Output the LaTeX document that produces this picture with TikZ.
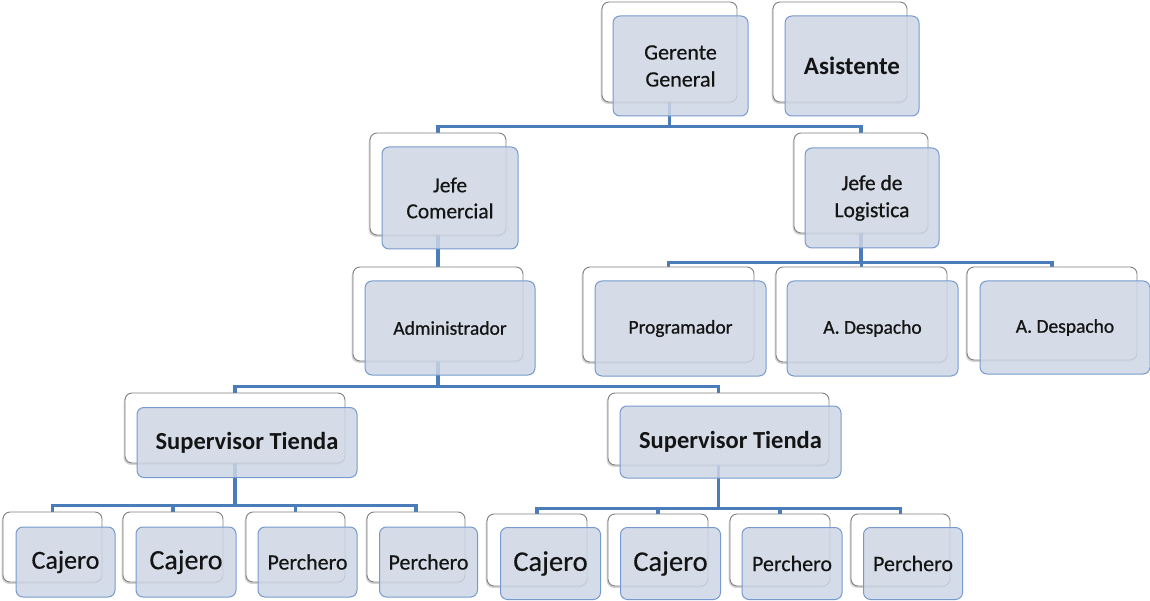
\documentclass[tikz,border=0pt]{standalone}
\usepackage{fontspec}
\setmainfont{Carlito}[Ligatures=NoCommon]
\newfontfamily\semib{Carlito}[FakeBold=0.8,Ligatures=NoCommon]
\newfontfamily\lightb{Carlito}[FakeBold=0.4,Ligatures=NoCommon]
\usetikzlibrary{shadows}
\pgfdeclarelayer{background}
\pgfsetlayers{background,main}
\definecolor{frontfill}{RGB}{206,214,229}
\definecolor{frontdraw}{RGB}{118,154,205}
\definecolor{backdraw}{RGB}{128,128,128}
\definecolor{conncol}{RGB}{74,124,185}
\definecolor{txt}{RGB}{20,20,20}
\tikzset{
  backbox/.style={draw=backdraw, line width=0.9pt, fill=white, rounded corners=7pt,
    drop shadow={shadow xshift=-1.3pt, shadow yshift=-1.8pt, opacity=0.35}, inner sep=0pt},
  frontbox/.style={draw=frontdraw, line width=1pt, fill=frontfill, fill opacity=0.85,
    text opacity=1, rounded corners=7pt, inner sep=0pt, align=center, text=txt},
  conn/.style={draw=conncol, line width=3.5pt},
}
\newcommand\orgunit[9]{%
  \node[backbox, minimum width=#4pt, minimum height=#5pt] (#1) at (#2,#3) {};
  \node[frontbox, minimum width=#4pt, minimum height=#5pt, font=#8] (#1f) at ({#2+#6},{#3+#7}) {#9};
}
\begin{document}
\begin{tikzpicture}[x=1pt,y=-1pt]
\useasboundingbox (0,0) rectangle (1150,601);
\orgunit{gg}{669.5}{52}{135}{100}{11}{14}{\lightb\fontsize{22}{27}\selectfont}{Gerente\\General}
\orgunit{as}{840}{52}{134}{100}{12}{14}{\bfseries\fontsize{25}{30}\selectfont}{Asistente}
\orgunit{jc}{438}{184}{136}{102}{12}{14}{\lightb\fontsize{21.5}{26}\selectfont}{Jefe\\Comercial}
\orgunit{jl}{861}{183}{134}{100}{11}{15}{\semib\fontsize{21.5}{27}\selectfont}{Jefe de\\Logistica}
\orgunit{ad}{438}{314}{170}{94}{12}{14}{\semib\fontsize{19.5}{24}\selectfont}{Administrador}
\orgunit{pr}{668.5}{314.5}{171}{95}{12}{14}{\semib\fontsize{19.5}{24}\selectfont}{Programador}
\orgunit{da}{861.5}{314.5}{171}{95}{11}{14}{\semib\fontsize{19.5}{24}\selectfont}{A. Despacho}
\orgunit{db}{1052}{313.5}{170}{93}{13}{14}{\semib\fontsize{19.5}{24}\selectfont}{A. Despacho}
\orgunit{sa}{235}{428}{220}{70}{12}{14.5}{\bfseries\fontsize{24.5}{30}\selectfont}{Supervisor Tienda}
\orgunit{sb}{718.5}{429}{221}{72}{12}{13}{\bfseries\fontsize{24.5}{30}\selectfont}{Supervisor Tienda}
\orgunit{ca}{52.5}{547}{99}{70}{13}{15}{\lightb\fontsize{26}{30}\selectfont}{Cajero}
\orgunit{cb}{173}{547}{100}{70}{13}{15}{\lightb\fontsize{28}{32}\selectfont}{Cajero}
\orgunit{pa}{295.5}{547}{99}{70}{12}{15}{\lightb\fontsize{22}{26}\selectfont}{Perchero}
\orgunit{pb}{416}{547}{98}{70}{12.5}{15}{\lightb\fontsize{22}{26}\selectfont}{Perchero}
\orgunit{cc}{537}{550}{100}{72}{13.5}{13.5}{\lightb\fontsize{28.5}{32}\selectfont}{Cajero}
\orgunit{cd}{658}{550}{100}{72}{12.5}{13.5}{\lightb\fontsize{28.5}{32}\selectfont}{Cajero}
\orgunit{pc}{780}{550}{100}{72}{12}{13.5}{\lightb\fontsize{22}{26}\selectfont}{Perchero}
\orgunit{pd}{900.5}{550}{99}{72}{12.5}{13.5}{\lightb\fontsize{22}{26}\selectfont}{Perchero}
\begin{pgfonlayer}{background}
  \draw[conn] (gg.south) -- ++(0,24) -| (jc.north);
  \draw[conn] (gg.south) -- ++(0,24) -| (jl.north);
  \draw[conn] (jl.south) -- ++(0,29) -| (pr.north);
  \draw[conn] (jl.south) -- ++(0,29) -| (da.north);
  \draw[conn] (jl.south) -- ++(0,29) -| (db.north);
  \draw[conn] (jc.south) -- (ad.north);
  \draw[conn] (ad.south) -- ++(0,25) -| (sa.north);
  \draw[conn] (ad.south) -- ++(0,25) -| (sb.north);
  \draw[conn] (sa.south) -- ++(0,42) -| (ca.north);
  \draw[conn] (sa.south) -- ++(0,42) -| (cb.north);
  \draw[conn] (sa.south) -- ++(0,42) -| (pa.north);
  \draw[conn] (sa.south) -- ++(0,42) -| (pb.north);
  \draw[conn] (sb.south) -- ++(0,43) -| (cc.north);
  \draw[conn] (sb.south) -- ++(0,43) -| (cd.north);
  \draw[conn] (sb.south) -- ++(0,43) -| (pc.north);
  \draw[conn] (sb.south) -- ++(0,43) -| (pd.north);
\end{pgfonlayer}
\end{tikzpicture}
\end{document}
